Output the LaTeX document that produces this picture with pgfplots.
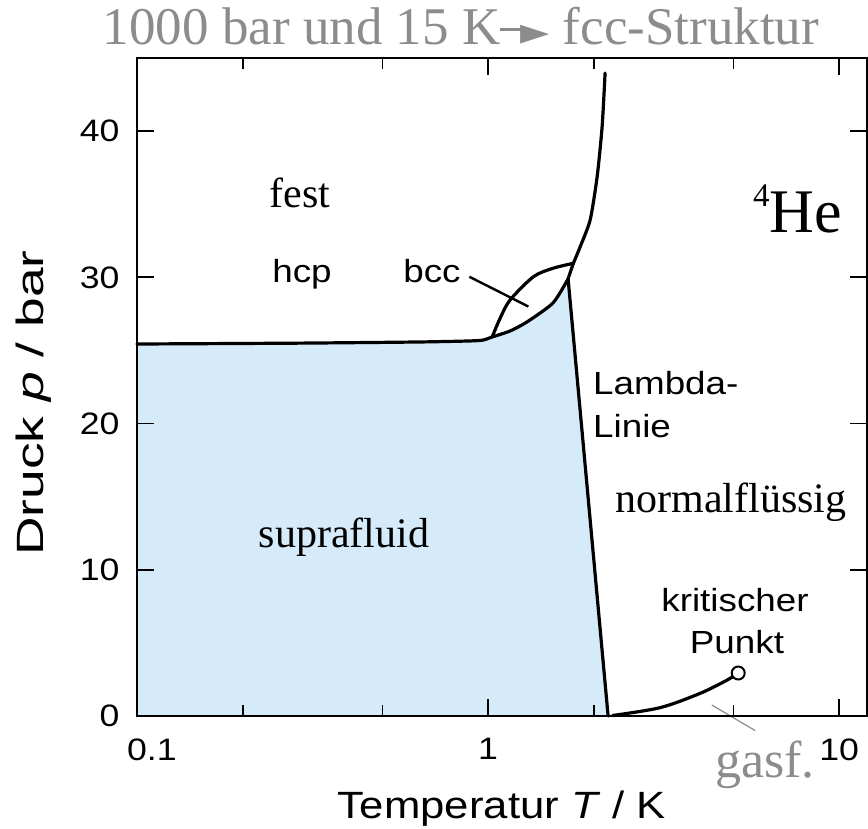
\documentclass[border=0pt]{standalone}
\usepackage{fontspec}
\setmainfont{Liberation Sans}[FakeStretch=1.15]
\newfontfamily\serif{Liberation Serif}
\newfontfamily\dejavu{DejaVu Sans}
\usepackage{graphicx}
\usepackage{pgfplots}
\pgfplotsset{compat=1.18}
\definecolor{heblue}{RGB}{214,235,250}
\definecolor{txtgray}{RGB}{140,140,140}
\newcommand\fs[1]{\fontsize{#1}{#1}\selectfont}
\begin{document}
\begin{tikzpicture}
\useasboundingbox (-137pt,-112pt) rectangle (731pt,716pt);
\begin{axis}[
  at={(0pt,0pt)}, anchor=south west,
  scale only axis, width=730pt, height=658pt,
  xmode=log, xmin=0.1, xmax=12, ymin=0, ymax=45,
  xtick={0.1,1,10}, xticklabels={\hphantom{0.}0.1,1,10},
  minor xtick={0.2,0.5,2,5},
  ytick={0,10,20,30,40},
  yticklabels={0,10,20,30,40},
  tick align=inside,
  major tick length=17pt, minor tick length=11pt,
  tick style={black, line width=1.8pt},
  axis line style={line width=1.8pt},
  tick label style={font=\fs{31}},
  xticklabel style={yshift=-19pt},
  yticklabel style={xshift=-14pt},
  xlabel={Temperatur \textit{T} / K},
  ylabel={\scalebox{1.22}[1]{Druck \textit{p} / bar}},
  label style={font=\fs{38}},
  xlabel style={at={(axis description cs:0.5,-0.1565)}, anchor=base},
  ylabel style={at={(axis description cs:-0.1274,0.4757)}, anchor=base},
  clip=false, axis on top,
]
% superfluid region
\addplot[fill=heblue, draw=none] coordinates {(0.1,0) (0.1,25.44) (0.291,25.5) (0.64,25.58) (0.889,25.65) (0.968,25.71) (1.027,25.92) (1.155,26.33) (1.291,26.95) (1.531,28.25) (1.690,29.9) (2.197,0)} -- cycle;
% melting curve (lower part)
\addplot[black, line width=3.2pt, smooth, tension=0.4, line join=round, line cap=round] coordinates {(0.1,25.44) (0.291,25.5) (0.64,25.58) (0.889,25.65) (0.968,25.71) (1.027,25.92) (1.155,26.33) (1.291,26.95) (1.531,28.25) (1.690,29.9)};
% melting curve (upper part)
\addplot[black, line width=3.2pt, smooth, tension=0.4, line join=round, line cap=round] coordinates {(1.690,29.9) (1.750,30.96) (1.828,32.07) (1.953,33.92) (2.044,36.86) (2.112,40.28) (2.154,43.97)};
% hcp-bcc boundary
\addplot[black, line width=3.2pt, smooth, tension=0.5, line cap=round] coordinates {(1.027,25.92) (1.082,27.2) (1.155,28.45) (1.346,30.04) (1.531,30.62) (1.750,30.96)};
% lambda line
\addplot[black, line width=3.2pt, line cap=round] coordinates {(1.690,29.9) (2.197,0)};
% vapour pressure curve
\addplot[black, line width=3.2pt, smooth, tension=0.5] coordinates {(2.254,0.03) (3.09,0.57) (4.018,1.55) (4.797,2.46) (5.157,2.94)};
\addplot[only marks, mark=*, mark size=6.5pt, mark options={fill=white, draw=black, line width=2pt}] coordinates {(5.157,2.94)};
% bcc pointer
\addplot[black, line width=2.4pt] coordinates {(0.8845,30.04) (1.303,28.0)};
% gasf. pointer
\addplot[txtgray, line width=1.2pt] coordinates {(4.338,0.75) (5.765,-1.0)};
\end{axis}
\node[font=\serif\fs{42}, anchor=base] at (163pt,508pt) {fest};
\node[font=\fs{32}, anchor=base] at (165pt,433pt) {hcp};
\node[font=\fs{32}, anchor=base] at (295pt,433pt) {bcc};
\node[font=\fs{32}, anchor=base west, inner sep=0pt] at (456pt,321pt) {Lambda-};
\node[font=\fs{32}, anchor=base west, inner sep=0pt] at (456pt,278pt) {Linie};
\node[font=\serif\fs{42}, anchor=base] at (594pt,203pt) {normalflüssig};
\node[font=\serif\fs{42}, anchor=base] at (207pt,168pt) {suprafluid};
\node[font=\fs{32}, anchor=base] at (598pt,104pt) {kritischer};
\node[font=\fs{32}, anchor=base] at (600pt,63pt) {Punkt};
\node[font=\serif\fs{52}, text=txtgray, anchor=base west, inner sep=0pt] at (578pt,-61pt) {gasf.};
\node[font=\serif\fs{62}, anchor=base west, inner sep=0pt] at (616pt,483pt) {\raisebox{26pt}{\fs{33}4}He};
\node[font=\serif\fs{53}, text=txtgray, anchor=base] at (324pt,671pt) {1000 bar und 15 K\rule[0.27em]{0.5em}{0.05em}\kern-0.12em{\dejavu\fs{38}►} fcc-Struktur};
\end{tikzpicture}
\end{document}
